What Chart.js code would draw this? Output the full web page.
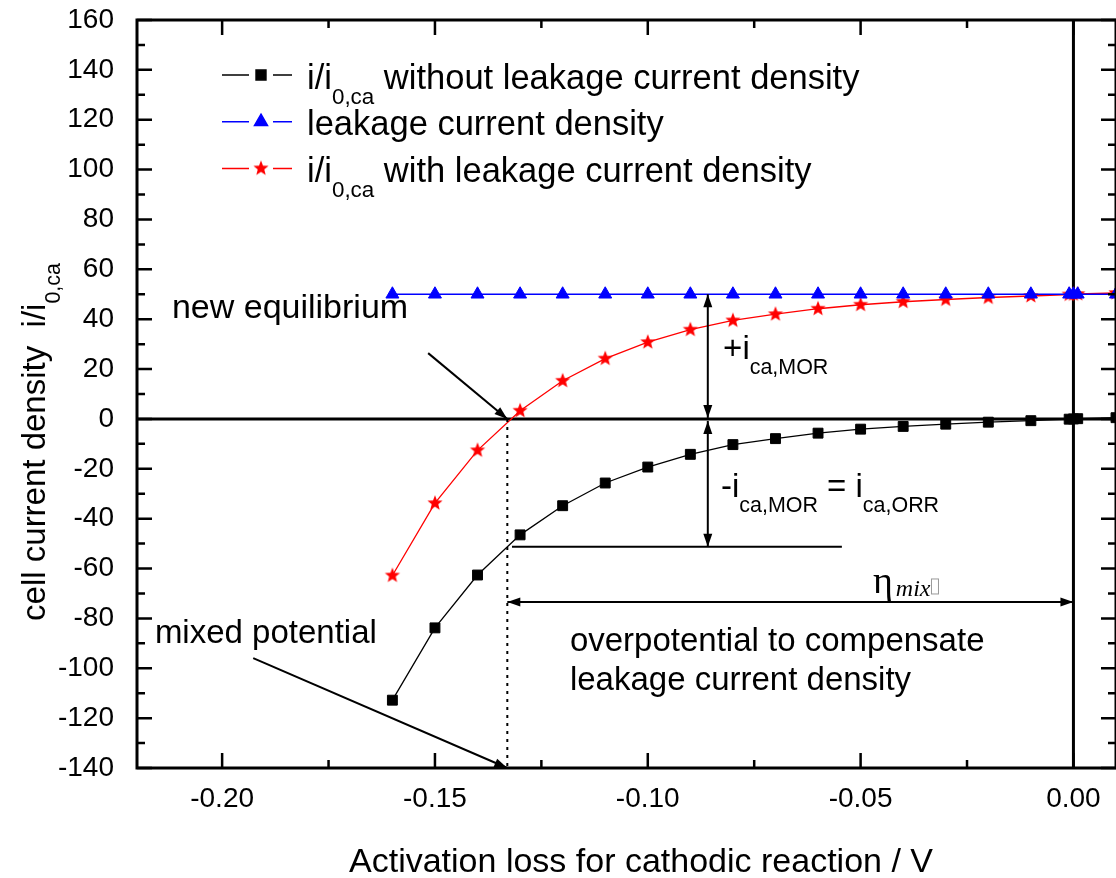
<!DOCTYPE html>
<html>
<head>
<meta charset="utf-8">
<script src="https://cdn.jsdelivr.net/npm/chart.js@4/dist/chart.umd.min.js"></script>
<style>
  html, body { margin: 0; padding: 0; background: #fff; }
  canvas { display: block; }
</style>
</head>
<body>
<canvas id="chart" width="1116" height="878"></canvas>
<script>
const SANS  = '"Liberation Sans", Arial, sans-serif';
const SERIF = '"Liberation Serif", "Times New Roman", serif';

// activation loss / V
const eta = [-0.16, -0.15, -0.14, -0.13, -0.12, -0.11, -0.10, -0.09, -0.08, -0.07,
             -0.06, -0.05, -0.04, -0.03, -0.02, -0.01, -0.001, 0, 0.001, 0.01];
// i/i0,ca without leakage
const withoutLeak = [-112.8, -83.8, -62.6, -46.5, -34.8, -25.7, -19.3, -14.2, -10.3, -7.9,
                     -5.7, -4.1, -3.0, -2.1, -1.3, -0.7, -0.1, 0, 0.1, 0.5];
// leakage current density
const leakage = [50, 50, 50, 50, 50, 50, 50, 50, 50, 50,
                 50, 50, 50, 50, 50, 50, 50, 50, 50, 50];
// i/i0,ca with leakage
const withLeak = [-62.8, -33.8, -12.6, 3.3, 15.3, 24.2, 30.8, 35.8, 39.5, 42.0,
                  44.2, 45.8, 47.0, 47.9, 48.7, 49.3, 49.9, 50, 50.1, 50.5];

const xTicks      = [-0.20, -0.15, -0.10, -0.05, 0.00];
const xMinorTicks = [-0.175, -0.125, -0.075, -0.025];
const yTicks      = [-140, -120, -100, -80, -60, -40, -20, 0, 20, 40, 60, 80, 100, 120, 140, 160];
const yMinorTicks = [-130, -110, -90, -70, -50, -30, -10, 10, 30, 50, 70, 90, 110, 130, 150];

// mixed potential, where the leakage-corrected curve crosses zero
const etaMix = -0.133;
// the ORR level marked by the lower bracket
const orrLevel = -51.3;

// filled five-point star for the red series
function makeStar(color, rOut, rIn) {
  const c = document.createElement('canvas');
  const s = Math.ceil(rOut * 2 + 2);
  c.width = s; c.height = s;
  const g = c.getContext('2d');
  g.fillStyle = color;
  g.beginPath();
  for (let k = 0; k < 10; k++) {
    const r = k % 2 ? rIn : rOut;
    const a = -Math.PI / 2 + k * Math.PI / 5;
    g.lineTo(s / 2 + r * Math.cos(a), s / 2 + r * Math.sin(a));
  }
  g.closePath();
  g.fill();
  return c;
}
const starImg = makeStar('#ff0000', 8, 3.4);

const pts = ys => eta.map((x, i) => ({ x, y: ys[i] }));

// text with subscripts, returns the width
function rich(ctx, parts, x, y, size, draw = true) {
  let cx = x;
  for (const p of parts) {
    const fs = p.sub ? size * 0.65 : (p.size || size);
    ctx.font = (p.italic ? 'italic ' : '') + fs + 'px ' + (p.serif ? SERIF : SANS);
    if (draw) ctx.fillText(p.t, cx, y + (p.sub ? size * 0.44 : 0));
    cx += ctx.measureText(p.t).width;
  }
  return cx - x;
}

function arrowHead(ctx, x0, y0, x1, y1) {
  const a = Math.atan2(y1 - y0, x1 - x0), L = 13, W = 4.5;
  ctx.beginPath();
  ctx.moveTo(x1, y1);
  ctx.lineTo(x1 - L * Math.cos(a) + W * Math.sin(a), y1 - L * Math.sin(a) - W * Math.cos(a));
  ctx.lineTo(x1 - L * Math.cos(a) - W * Math.sin(a), y1 - L * Math.sin(a) + W * Math.cos(a));
  ctx.closePath();
  ctx.fill();
}
function arrow(ctx, x0, y0, x1, y1, both) {
  ctx.beginPath(); ctx.moveTo(x0, y0); ctx.lineTo(x1, y1); ctx.stroke();
  arrowHead(ctx, x0, y0, x1, y1);
  if (both) arrowHead(ctx, x1, y1, x0, y0);
}

const zeroLines = {
  id: 'zeroLines',
  beforeDatasetsDraw(chart) {
    const { ctx, chartArea: a, scales: { x, y } } = chart;
    ctx.save();
    ctx.strokeStyle = '#000';
    ctx.lineWidth = 3;
    ctx.beginPath();
    ctx.moveTo(a.left, y.getPixelForValue(0)); ctx.lineTo(a.right, y.getPixelForValue(0));
    ctx.moveTo(x.getPixelForValue(0), a.top); ctx.lineTo(x.getPixelForValue(0), a.bottom);
    ctx.stroke();
    ctx.restore();
  }
};

const frameAndNotes = {
  id: 'frameAndNotes',
  afterDatasetsDraw(chart) {
    const { ctx, chartArea: a, scales: { x, y } } = chart;
    const X = v => x.getPixelForValue(v), Y = v => y.getPixelForValue(v);
    ctx.save();
    ctx.fillStyle = '#000';
    ctx.strokeStyle = '#000';

    // box and inward ticks
    ctx.lineWidth = 3;
    ctx.strokeRect(a.left, a.top, a.right - a.left, a.bottom - a.top);
    ctx.lineWidth = 2.5;
    ctx.beginPath();
    const tx = (v, len) => { ctx.moveTo(X(v), a.bottom); ctx.lineTo(X(v), a.bottom - len);
                             ctx.moveTo(X(v), a.top);    ctx.lineTo(X(v), a.top + len); };
    const ty = (v, len) => { ctx.moveTo(a.left, Y(v));  ctx.lineTo(a.left + len, Y(v));
                             ctx.moveTo(a.right, Y(v)); ctx.lineTo(a.right - len, Y(v)); };
    xTicks.forEach(v => tx(v, 15));
    xMinorTicks.forEach(v => tx(v, 8));
    yTicks.forEach(v => ty(v, 15));
    yMinorTicks.forEach(v => ty(v, 8));
    ctx.stroke();

    // dotted line at the mixed potential
    ctx.lineWidth = 2;
    ctx.setLineDash([3, 5]);
    ctx.beginPath();
    ctx.moveTo(X(etaMix), Y(0)); ctx.lineTo(X(etaMix), a.bottom);
    ctx.stroke();
    ctx.setLineDash([]);

    // brackets for the two current components
    ctx.lineWidth = 2;
    arrow(ctx, X(-0.0859), Y(50), X(-0.0859), Y(0) - 1, true);
    arrow(ctx, X(-0.0859), Y(0) + 2, X(-0.0859), Y(orrLevel), true);
    ctx.beginPath();
    ctx.moveTo(X(-0.1319), Y(orrLevel)); ctx.lineTo(X(-0.0544), Y(orrLevel));
    ctx.stroke();

    // eta_mix span
    arrow(ctx, X(etaMix), Y(-73.4), X(0), Y(-73.4), true);

    // pointer arrows
    arrow(ctx, X(-0.1516), Y(26.4), X(etaMix), Y(0));
    arrow(ctx, X(-0.1927), Y(-95.9), X(etaMix), Y(-140));

    // labels
    ctx.textAlign = 'left';
    ctx.textBaseline = 'alphabetic';
    const fs = 33;
    rich(ctx, [{ t: 'new equilibrium' }], X(-0.2118), Y(40.3), 34);
    rich(ctx, [{ t: '+i' }, { t: 'ca,MOR', sub: true }], X(-0.0823), Y(24.0), fs);
    rich(ctx, [{ t: '-i' }, { t: 'ca,MOR', sub: true }, { t: ' = i' }, { t: 'ca,ORR', sub: true }],
         X(-0.0828), Y(-31.5), fs);
    rich(ctx, [{ t: 'overpotential to compensate' }], X(-0.1183), Y(-92.9), fs);
    rich(ctx, [{ t: 'leakage current density' }], X(-0.1183), Y(-108.9), fs);
    rich(ctx, [{ t: 'mixed potential' }], X(-0.2158), Y(-89.9), fs);

    // eta_mix symbol
    const ex = X(-0.0471), ey = Y(-69.8);
    ctx.font = '38px ' + SERIF;
    ctx.fillText('\u03b7', ex, ey);
    const ew = ctx.measureText('\u03b7').width;
    ctx.font = 'italic 24px ' + SERIF;
    ctx.fillText('mix', ex + ew + 3, ey + 3);
    const mw = ctx.measureText('mix').width;
    ctx.strokeStyle = '#999';
    ctx.lineWidth = 1;
    ctx.strokeRect(ex + ew + 3 + mw + 1, ey - 14, 7, 15);
    ctx.restore();
  },
  afterDraw(chart) {
    const { ctx } = chart;
    ctx.save();
    ctx.fillStyle = '#000';
    ctx.textBaseline = 'alphabetic';

    // axis titles
    ctx.font = '34px ' + SANS;
    ctx.textAlign = 'center';
    ctx.fillText('Activation loss for cathodic reaction / V', 641, 872);

    ctx.textAlign = 'left';
    const yt = [{ t: 'cell current density  i/i' }, { t: '0,ca', sub: true }];
    const w = rich(ctx, yt, 0, 0, 33, false);
    ctx.translate(45, 442);
    ctx.rotate(-Math.PI / 2);
    rich(ctx, yt, -w / 2, 0, 33);
    ctx.restore();

    // legend
    ctx.save();
    const rows = [
      { ds: 0, parts: [{ t: 'i/i' }, { t: '0,ca', sub: true }, { t: ' without leakage current density' }] },
      { ds: 1, parts: [{ t: 'leakage current density' }] },
      { ds: 2, parts: [{ t: 'i/i' }, { t: '0,ca', sub: true }, { t: ' with leakage current density' }] }
    ];
    rows.forEach((r, i) => {
      const ds = chart.data.datasets[r.ds];
      const ly = 75 + i * 46.7;
      ctx.strokeStyle = ds.borderColor;
      ctx.lineWidth = 1.5;
      ctx.beginPath();
      ctx.moveTo(222, ly); ctx.lineTo(249, ly);
      ctx.moveTo(273, ly); ctx.lineTo(292, ly);
      ctx.stroke();
      ctx.fillStyle = ds.pointBackgroundColor;
      ctx.strokeStyle = ds.pointBorderColor;
      Chart.helpers.drawPoint(ctx, {
        pointStyle: ds.pointStyle, radius: ds.pointRadius, rotation: 0, borderWidth: 1
      }, 261, ly);
      ctx.fillStyle = '#000';
      rich(ctx, r.parts, 307, ly + 13.5, 34.5);
    });
    ctx.restore();
  }
};

new Chart(document.getElementById('chart').getContext('2d'), {
  type: 'scatter',
  data: {
    datasets: [
      {
        label: 'i/i0,ca without leakage current density',
        data: pts(withoutLeak),
        showLine: true,
        borderColor: '#000000',
        borderWidth: 1.3,
        pointStyle: 'rect',
        pointRadius: 7,
        pointBackgroundColor: '#000000',
        pointBorderColor: '#000000',
        pointBorderWidth: 1
      },
      {
        label: 'leakage current density',
        data: pts(leakage),
        showLine: true,
        borderColor: '#0000ff',
        borderWidth: 1.3,
        pointStyle: 'triangle',
        pointRadius: 7.5,
        pointBackgroundColor: '#0000ff',
        pointBorderColor: '#0000ff',
        pointBorderWidth: 1
      },
      {
        label: 'i/i0,ca with leakage current density',
        data: pts(withLeak),
        showLine: true,
        borderColor: '#ff0000',
        borderWidth: 1.3,
        pointStyle: starImg,
        pointRadius: 8,
        pointBackgroundColor: '#ff0000',
        pointBorderColor: '#ff0000',
        pointBorderWidth: 1
      }
    ]
  },
  options: {
    responsive: false,
    animation: false,
    events: [],
    layout: { autoPadding: false, padding: { top: 20, right: 0, left: 0, bottom: 0 } },
    plugins: { legend: { display: false }, tooltip: { enabled: false } },
    scales: {
      x: {
        type: 'linear',
        min: -0.22,
        max: 0.01,
        afterBuildTicks: s => { s.ticks = xTicks.map(v => ({ value: v })); },
        afterFit: s => { s.height = 110; s.paddingLeft = 0; s.paddingRight = 0; },
        grid: { display: false },
        border: { display: false },
        ticks: {
          color: '#000',
          font: { family: SANS, size: 28 },
          padding: 6,
          maxRotation: 0,
          autoSkip: false,
          callback: v => Number(v).toFixed(2)
        }
      },
      y: {
        min: -140,
        max: 160,
        afterBuildTicks: s => { s.ticks = yTicks.map(v => ({ value: v })); },
        afterFit: s => { s.width = 137; s.paddingTop = 0; s.paddingBottom = 0; },
        grid: { display: false },
        border: { display: false },
        ticks: {
          color: '#000',
          font: { family: SANS, size: 28 },
          padding: 15,
          callback: v => String(v)
        }
      }
    }
  },
  plugins: [zeroLines, frameAndNotes]
});
</script>
</body>
</html>
